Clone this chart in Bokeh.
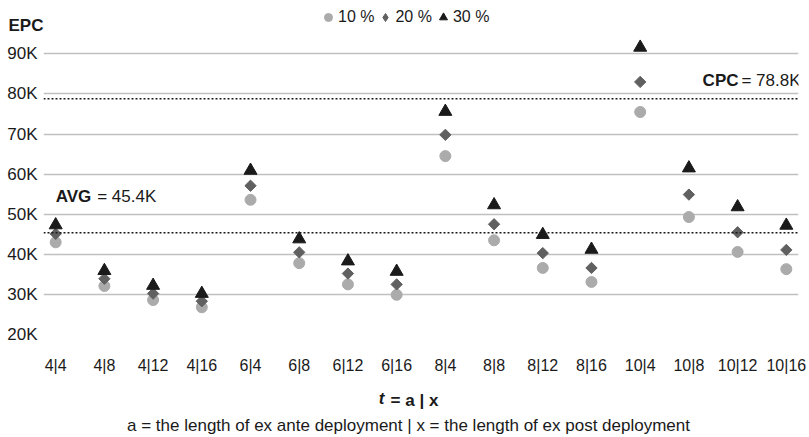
import math
from bokeh.plotting import figure
from bokeh.models import (ColumnDataSource, Span, Label, Legend, LegendItem, FixedTicker,
                          LinearAxis, Range1d)
from bokeh.embed import file_html
from bokeh.resources import INLINE

categories = ["4|4", "4|8", "4|12", "4|16", "6|4", "6|8", "6|12", "6|16",
              "8|4", "8|8", "8|12", "8|16", "10|4", "10|8", "10|12", "10|16"]
epc_10 = [43.0, 32.1, 28.6, 26.8, 53.6, 37.8, 32.5, 29.9,
          64.5, 43.5, 36.6, 33.1, 75.5, 49.3, 40.6, 36.3]
epc_20 = [45.1, 33.9, 30.2, 28.3, 57.1, 40.5, 35.2, 32.5,
          69.8, 47.5, 40.3, 36.6, 83.0, 54.9, 45.5, 41.1]
epc_30 = [47.3, 35.9, 32.2, 30.2, 60.9, 43.8, 38.3, 35.7,
          75.6, 52.3, 44.9, 41.2, 91.6, 61.5, 51.8, 47.2]
series_labels = ["10 %", "20 %", "30 %"]
y_ticks = [20, 30, 40, 50, 60, 70, 80, 90]
y_tick_labels = ["20K", "30K", "40K", "50K", "60K", "70K", "80K", "90K"]
avg_value = 45.4
cpc_value = 78.8
avg_text = "= 45.4K"
cpc_text = "= 78.8K"
y_title = "EPC"
x_title_var = "t"
x_title_rest = "= a | x"
x_note = "a = the length of ex ante deployment | x = the length of ex post deployment"

FONT = "Liberation Sans"
TXT = "#1a1a1a"
PX_PER_K = 4.0214
FRAME_H = 327
FRAME_W = 755
W, H = 809, 437

x_idx = list(range(len(categories)))

p = figure(width=W, height=H, x_range=(-0.25, 15.25),
           y_range=(20, 20 + FRAME_H / PX_PER_K),
           output_backend="svg", toolbar_location=None,
           min_border_left=43, min_border_right=11, min_border_top=8,
           min_border_bottom=102)
p.outline_line_color = None
p.background_fill_color = "white"
p.extra_x_ranges = {"page": Range1d(0, FRAME_W)}


def plain(ax, size, style="normal", standoff=0):
    ax.axis_line_color = None
    ax.major_tick_line_color = None
    ax.minor_tick_line_color = None
    ax.major_tick_out = 0
    ax.major_tick_in = 0
    ax.minor_tick_out = 0
    ax.major_label_standoff = standoff
    ax.major_label_text_font = FONT
    ax.major_label_text_font_size = size
    ax.major_label_text_font_style = style
    ax.major_label_text_color = TXT


# grid
p.xgrid.visible = False
yt = FixedTicker(ticks=y_ticks)
p.ygrid.ticker = yt
p.ygrid.grid_line_color = "#c0c0c0"
p.ygrid.grid_line_width = 1.5

# inner left axis: the "EPC" title, right-aligned to the frame edge
epc_tick = 97
epc_axis = p.yaxis[0]
epc_axis.ticker = FixedTicker(ticks=[epc_tick])
epc_axis.major_label_overrides = {epc_tick: y_title}
plain(epc_axis, "17px", "bold", 0)

# outer left axis: value tick labels, pulled back next to the frame
val_axis = LinearAxis(ticker=yt, major_label_overrides=dict(zip(y_ticks, y_tick_labels)))
plain(val_axis, "17px", "normal", -32)
p.add_layout(val_axis, "left")

# bottom: category labels
cat_axis = p.xaxis[0]
cat_axis.ticker = FixedTicker(ticks=x_idx)
cat_axis.major_label_overrides = dict(zip(x_idx, categories))
plain(cat_axis, "16px", "normal", 22)

# bottom: "t = a | x" row (italic t + rest on the same row) and the note row
t_pos, rest_pos, note_pos = 338, 371, 365
ax_t = LinearAxis(x_range_name="page", ticker=FixedTicker(ticks=[t_pos]),
                  major_label_overrides={t_pos: x_title_var})
plain(ax_t, "17px", "bold italic", 12)
p.add_layout(ax_t, "below")
ax_rest = LinearAxis(x_range_name="page", ticker=FixedTicker(ticks=[rest_pos]),
                     major_label_overrides={rest_pos: x_title_rest})
plain(ax_rest, "17px", "bold", -20)
p.add_layout(ax_rest, "below")
ax_note = LinearAxis(x_range_name="page", ticker=FixedTicker(ticks=[note_pos]),
                     major_label_overrides={note_pos: x_note})
plain(ax_note, "17px", "normal", 3)
p.add_layout(ax_note, "below")

# data
src = ColumnDataSource(dict(x=x_idx, y10=epc_10, y20=epc_20, y30=epc_30))
r10 = p.scatter("x", "y10", source=src, marker="circle", size=11,
                fill_color="#ababab", line_color="#ababab")
r20 = p.scatter("x", "y20", source=src, marker="square", size=8, angle=math.pi / 4,
                fill_color="#606060", line_color="#606060")
r20_key = p.scatter("x", "y20", source=src, marker="diamond", size=8,
                    fill_color="#606060", line_color="#606060", visible=False)
r30 = p.scatter("x", "y30", source=src, marker="triangle", size=13,
                fill_color="#1a1a1a", line_color="#1a1a1a")

for val in (avg_value, cpc_value):
    p.add_layout(Span(location=val, dimension="width", line_color="#1a1a1a",
                      line_width=1.5, line_dash="2 2"))

legend = Legend(items=[LegendItem(label=series_labels[0], renderers=[r10]),
                       LegendItem(label=series_labels[1], renderers=[r20_key]),
                       LegendItem(label=series_labels[2], renderers=[r30])],
                orientation="horizontal", location=(275, FRAME_H - 20),
                glyph_width=20, glyph_height=20, label_standoff=0, spacing=1,
                padding=0, margin=0, border_line_color=None,
                background_fill_alpha=0, label_height=20,
                label_text_font=FONT, label_text_font_size="16px",
                label_text_color=TXT)
p.add_layout(legend)


def lab(text, **kw):
    base = dict(text=text, text_font=FONT, text_color=TXT, text_font_size="17px",
                text_baseline="middle")
    base.update(kw)
    p.add_layout(Label(**base))


lab("AVG", x=0, y=avg_value, y_offset=36, text_font_style="bold")
lab(avg_text, x=0, y=avg_value, y_offset=36, x_offset=41.5)
lab(cpc_text, x=15.25, y=cpc_value, y_offset=18, x_offset=2, text_align="right")
lab("CPC", x=15.25, y=cpc_value, y_offset=18, x_offset=-60, text_align="right",
    text_font_style="bold")

open("out.html", "w").write(file_html(p, INLINE))
